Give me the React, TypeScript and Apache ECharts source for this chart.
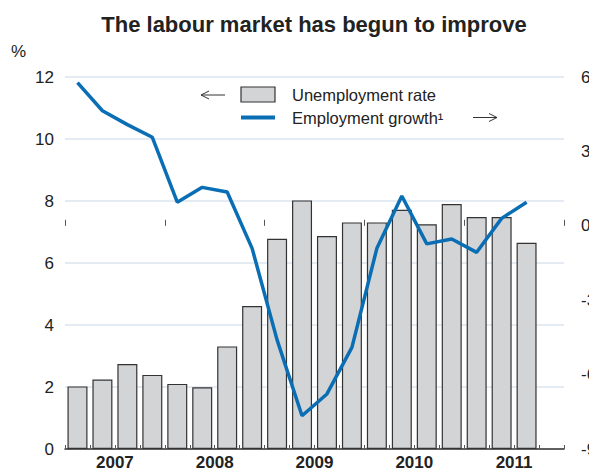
import React, { useEffect, useRef } from "react";
import * as echarts from "echarts";

const quarters = [
  "2007Q1", "2007Q2", "2007Q3", "2007Q4",
  "2008Q1", "2008Q2", "2008Q3", "2008Q4",
  "2009Q1", "2009Q2", "2009Q3", "2009Q4",
  "2010Q1", "2010Q2", "2010Q3", "2010Q4",
  "2011Q1", "2011Q2", "2011Q3", "2011Q4",
];
const years = ["2007", "2008", "2009", "2010", "2011"];
const unemploymentRate = [
  2.02, 2.24, 2.74, 2.39, 2.1, 1.99, 3.31, 4.61,
  6.78, 8.02, 6.87, 7.31, 7.31, 7.72, 7.25, 7.9,
  7.48, 7.48, 6.65, null,
];
const employmentGrowth = [
  5.77, 4.64, 4.08, 3.57, 0.95, 1.55, 1.36, -0.91,
  -4.6, -7.66, -6.78, -4.9, -0.91, 1.2, -0.73, -0.53,
  -1.07, 0.3, 0.95, null,
];
const seriesNames = ["Unemployment rate", "Employment growth¹"];
const leftTicks = { min: 0, max: 12, interval: 2 };
const rightTicks = { min: -9, max: 6, interval: 3 };

const TEXT = "#222222";
const FONT = "Liberation Sans, Arial, sans-serif";
const BAR_FILL = "#d3d4d6";
const BAR_BORDER = "#333333";
const LINE_COLOR = "#0a6eb4";

export default function App() {
  const ref = useRef<HTMLDivElement>(null);
  useEffect(() => {
    if (!ref.current) return;
    const chart = echarts.init(ref.current, undefined, { renderer: "svg" });
    chart.setOption({
      animation: false,
      backgroundColor: "#ffffff",
      textStyle: { fontFamily: FONT, color: TEXT },
      title: {
        text: "The labour market has begun to improve",
        left: 309,
        textAlign: "center",
        top: 8,
        textStyle: { fontFamily: FONT, fontSize: 22, fontWeight: "bold", color: TEXT },
      },
      grid: { left: 65, right: 25, top: 77, bottom: 21, containLabel: false, outerBoundsMode: "none" },
      xAxis: [
        {
          type: "category",
          data: quarters,
          boundaryGap: true,
          axisLine: { show: true, lineStyle: { color: "#333333", width: 1.5 } },
          axisTick: { show: true, inside: true, length: 4, interval: 0, lineStyle: { color: "#555555", width: 1 } },
          axisLabel: { show: false },
          splitLine: { show: false },
        },
        {
          type: "category",
          data: years,
          position: "bottom",
          boundaryGap: true,
          axisLine: { show: false },
          axisTick: { show: true, inside: true, length: 6, interval: 0, lineStyle: { color: "#555555", width: 1 } },
          axisLabel: { show: true, margin: 5, fontFamily: FONT, fontSize: 17, fontWeight: "bold", color: TEXT },
          splitLine: { show: false },
        },
      ],
      yAxis: [
        {
          type: "value",
          min: leftTicks.min,
          max: leftTicks.max,
          interval: leftTicks.interval,
          position: "left",
          axisLine: { show: false },
          axisTick: { show: false },
          axisLabel: { margin: 11, fontFamily: FONT, fontSize: 17, color: TEXT },
          splitLine: { show: true, lineStyle: { color: "#dde4ee", width: 1.5 } },
        },
        {
          type: "value",
          min: rightTicks.min,
          max: rightTicks.max,
          interval: rightTicks.interval,
          position: "right",
          axisLine: { show: false },
          axisTick: { show: false },
          axisLabel: { margin: 17, fontFamily: FONT, fontSize: 17, color: TEXT, align: "left" },
          splitLine: { show: false },
        },
      ],
      series: [
        {
          name: seriesNames[0],
          type: "bar",
          xAxisIndex: 0,
          yAxisIndex: 0,
          data: unemploymentRate,
          barWidth: 20,
          itemStyle: { color: BAR_FILL, borderColor: BAR_BORDER, borderWidth: 1.2 },
          z: 2,
        },
        {
          name: seriesNames[1],
          type: "line",
          xAxisIndex: 0,
          yAxisIndex: 1,
          data: employmentGrowth,
          symbol: "none",
          lineStyle: { color: LINE_COLOR, width: 3.5 },
          itemStyle: { color: LINE_COLOR },
          z: 3,
        },
      ],
      graphic: [
        {
          type: "text",
          left: 11,
          top: 43,
          style: { text: "%", fontFamily: FONT, fontSize: 17, fill: TEXT },
        },
        {
          type: "group",
          children: [
            { type: "rect", shape: { x: 241, y: 87, width: 34, height: 15 }, style: { fill: BAR_FILL, stroke: BAR_BORDER, lineWidth: 1.2 } },
            { type: "text", x: 292, y: 95, style: { text: seriesNames[0], fontFamily: FONT, fontSize: 16.5, fill: TEXT, verticalAlign: "middle", align: "left" } },
            { type: "line", shape: { x1: 241, y1: 117.5, x2: 275, y2: 117.5 }, style: { stroke: LINE_COLOR, lineWidth: 4 } },
            { type: "text", x: 292, y: 118, style: { text: seriesNames[1], fontFamily: FONT, fontSize: 16.5, fill: TEXT, verticalAlign: "middle", align: "left" } },
            { type: "line", shape: { x1: 201, y1: 95, x2: 225, y2: 95 }, style: { stroke: "#333", lineWidth: 1 } },
            { type: "polyline", shape: { points: [[209, 91], [201, 95], [209, 99]] }, style: { stroke: "#333", lineWidth: 1, fill: null } },
            { type: "line", shape: { x1: 473, y1: 117.5, x2: 497, y2: 117.5 }, style: { stroke: "#333", lineWidth: 1 } },
            { type: "polyline", shape: { points: [[489, 113.5], [497, 117.5], [489, 121.5]] }, style: { stroke: "#333", lineWidth: 1, fill: null } },
          ],
        },
      ],
    });
    return () => chart.dispose();
  }, []);
  return <div ref={ref} style={{ width: 589, height: 470, position: "absolute", left: 0, top: 0 }} />;
}
